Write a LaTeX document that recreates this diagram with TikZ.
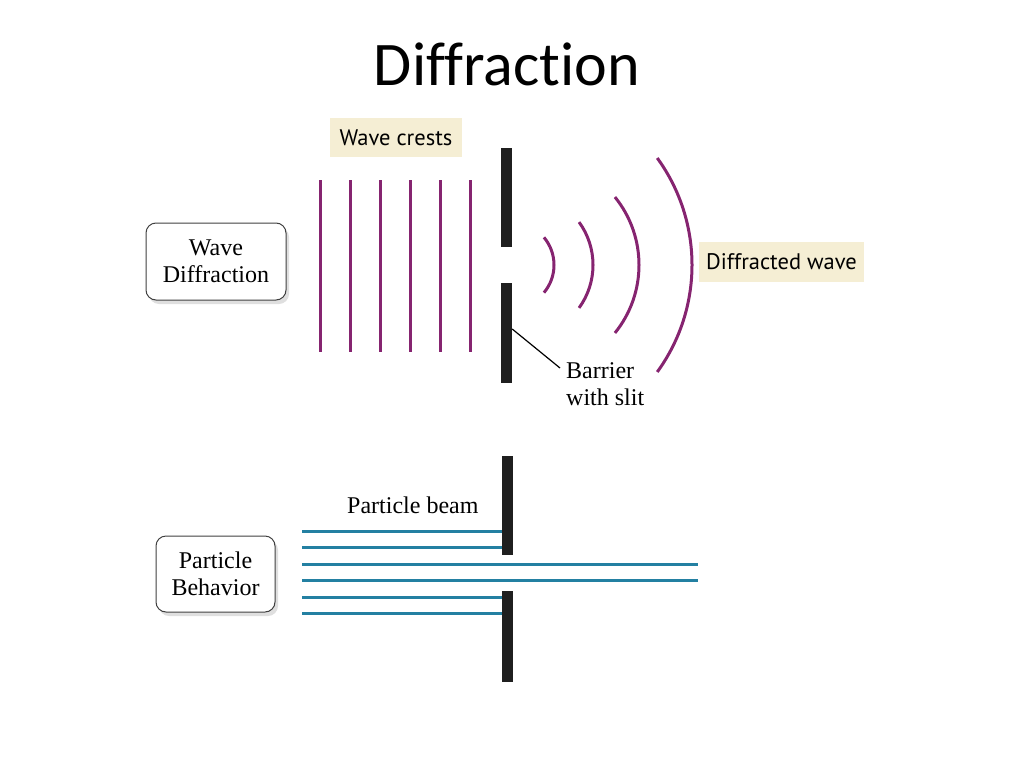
\documentclass[tikz,border=0pt]{standalone}
\usepackage{fontspec}
\setmainfont{Liberation Serif}
\newfontfamily\titlefont[Ligatures={NoCommon}]{Carlito}
\newfontfamily\labelfont{PT Sans}
\usetikzlibrary{shadows}
\definecolor{crest}{RGB}{134,36,112}
\definecolor{beam}{RGB}{35,128,162}
\definecolor{tag}{RGB}{245,238,212}
\begin{document}
\begin{tikzpicture}[x=1pt,y=1pt,
  box/.style={draw=black!75, line width=1pt, rounded corners=10pt, fill=white,
    align=center, inner sep=0pt, font=\fontsize{24}{27}\selectfont,
    drop shadow={opacity=0.25, shadow xshift=3pt, shadow yshift=-4pt}},
  tagbox/.style={fill=tag, inner sep=0pt, font=\labelfont\fontsize{22.5}{26}\selectfont},
  plain/.style={inner sep=0pt, font=\fontsize{24}{27}\selectfont},
  crestline/.style={draw=crest, line width=3pt},
  beamline/.style={draw=beam, line width=3pt},
  barrier/.style={fill=black!88, draw=none, inner sep=0pt, minimum width=11pt}
]
\useasboundingbox (0,0) rectangle (1024,-768);

% title
\node[anchor=base, inner sep=0pt] (title) at (507,-85) {\titlefont\fontsize{62}{70}\selectfont Diffraction};

% ---------- wave diffraction ----------
\node[box, minimum width=140pt, minimum height=77pt] (wavebox) at (216,-261.5) {Wave\\Diffraction};
\node[tagbox, minimum width=132pt, minimum height=39pt] (crests) at (396,-137.5) {Wave crests};

\foreach \x in {320,350,380,410,440,470}
  \draw[crestline] (\x,-180) -- (\x,-352);

\node[barrier, minimum height=99pt] (bartop) at (506.5,-197.5) {};
\node[barrier, minimum height=100pt] (barbot) at (506.5,-333) {};

\draw[crestline] (511,-265) ++(40:43) arc[start angle=40, end angle=-40, radius=43];
\draw[crestline] (520,-265) ++(36:73) arc[start angle=36, end angle=-36, radius=73];
\draw[crestline] (531,-265) ++(39:108) arc[start angle=39, end angle=-39, radius=108];
\draw[crestline] (510,-265) ++(36:182) arc[start angle=36, end angle=-36, radius=182];

\node[tagbox, minimum width=165pt, minimum height=40pt] (diffracted) at (781.5,-262) {Diffracted wave};

\node[plain, anchor=north west, align=left] (barlabel) at (566,-362) {Barrier\\with slit};
\coordinate (barpt) at (barbot.east |- 0,-329);
\draw[line width=1.2pt] (barpt) -- ([shift={(-6,-6)}]barlabel.north west);

% ---------- particle behaviour ----------
\node[box, minimum width=119pt, minimum height=76pt] (partbox) at (215.5,-574) {Particle\\Behavior};
\node[plain, anchor=base west] (beamlabel) at (347,-513) {Particle beam};

\node[barrier, minimum height=99pt] (pbartop) at (507.5,-505.5) {};
\node[barrier, minimum height=91pt] (pbarbot) at (507.5,-636.5) {};

\foreach \y in {531,547}
  \draw[beamline] (302,-\y) -- (pbartop.west |- 0,-\y);
\foreach \y in {597,613}
  \draw[beamline] (302,-\y) -- (pbarbot.west |- 0,-\y);
\foreach \y in {564,580}
  \draw[beamline] (302,-\y) -- (698,-\y);
\end{tikzpicture}
\end{document}
